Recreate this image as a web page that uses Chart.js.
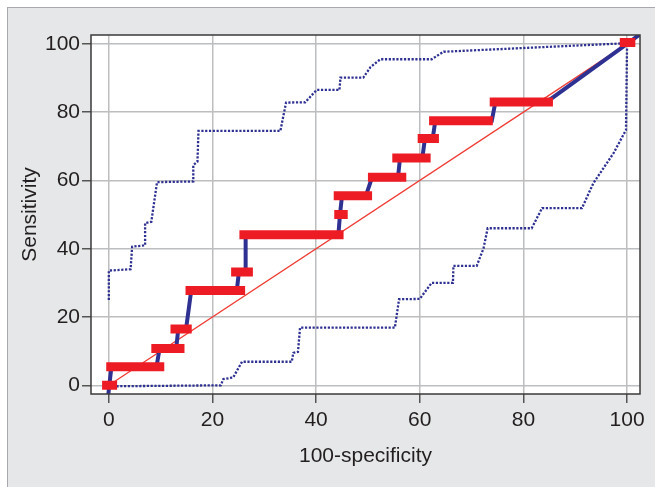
<!DOCTYPE html>
<html>
<head>
<meta charset="utf-8">
<script src="https://cdn.jsdelivr.net/npm/chart.js@4"></script>
<style>
  html, body { margin: 0; padding: 0; background: #fff; }
  #wrap { position: relative; width: 655px; height: 487px; overflow: hidden; }
  #panel { position: absolute; left: 7px; top: 7px; right: 0; bottom: 0;
           background: #e6e7e8; border-top: 1px solid #a7a9ac; border-left: 1px solid #a7a9ac; }
  #c { position: absolute; left: 0; top: 0; }
</style>
</head>
<body>
<div id="wrap">
  <div id="panel"></div>
  <canvas id="c" width="655" height="487"></canvas>
</div>
<script>
// tick positions on both axes
var tickVals = [0, 20, 40, 60, 80, 100];

// empirical ROC curve (100-specificity, sensitivity)
var rocX = [-0.2, 0.5, 9.2, 9.8, 13.0, 13.4, 14.9, 15.9, 24.7, 25.1, 26.4, 26.4, 44.3, 44.6, 45.0, 49.6, 50.8, 55.8, 56.2, 60.5, 61.0, 62.5, 63.0, 73.9, 74.6, 84.5, 100, 104];
var rocY = [-4, 5.4, 5.4, 10.8, 10.8, 16.5, 16.5, 27.8, 27.8, 33.2, 33.2, 44.1, 44.1, 50.0, 55.5, 55.5, 60.9, 60.9, 66.6, 66.6, 72.3, 72.3, 77.5, 77.5, 83.0, 83.0, 100, 104.5];

// confidence intervals for specificity at each sensitivity step (red bars)
var barY  = [0, 5.4, 10.8, 16.5, 27.8, 33.2, 44.1, 50.0, 55.5, 60.9, 66.6, 72.3, 77.5, 83.0, 100.4];
var barLo = [-1.3, -0.5, 8.2, 11.9, 14.8, 23.6, 25.2, 43.5, 43.4, 50.0, 54.7, 59.6, 61.8, 73.5, 98.6];
var barHi = [1.6, 10.7, 14.6, 16.0, 26.3, 27.8, 45.3, 46.1, 50.8, 57.4, 62.1, 63.7, 74.1, 85.7, 101.6];

// upper confidence band (dotted)
var upperX = [0, 0, 4.2, 4.5, 7.0, 7.0, 8.2, 9.3, 16.3, 16.3, 17.1, 17.3, 33.1, 34.2, 37.9, 40.1, 44.5, 44.7, 49.1, 50.5, 52.4, 62.3, 64.6, 100];
var upperY = [25, 33.6, 34, 40.6, 41, 47.5, 47.9, 59.5, 59.7, 64.5, 65.5, 74.5, 74.5, 82.8, 82.9, 86.5, 86.5, 90.1, 90.1, 93.2, 95.5, 95.5, 97.7, 100.2];

// lower confidence band (dotted)
var lowerX = [0, 21.6, 22.1, 24.0, 25.7, 35.3, 35.6, 36.5, 36.9, 55.2, 56.0, 60.0, 62.3, 66.4, 66.5, 71.0, 72.3, 73.1, 81.6, 83.6, 91.3, 93.5, 97.4, 99.8, 100];
var lowerY = [-0.3, 0, 1.8, 2.3, 6.9, 6.9, 9.5, 9.8, 16.9, 16.9, 25.2, 25.3, 30.0, 30.0, 35.0, 35.0, 40.1, 46.0, 46.0, 51.9, 51.9, 59.2, 68.0, 74.8, 100];

// reference diagonal
var diagX = [0, 100];
var diagY = [0, 100];

function pts(xs, ys) {
  return xs.map(function (x, i) { return { x: x, y: ys[i] }; });
}

function barPts() {
  var out = [];
  barY.forEach(function (y, i) {
    out.push({ x: barLo[i], y: y });
    out.push({ x: barHi[i], y: y });
    out.push({ x: barHi[i], y: null });
  });
  return out;
}

var navy = '#2e3192';
var red = '#ed1c24';
var font = { family: '"Liberation Sans", Arial, sans-serif', size: 21 };

var frame = {
  id: 'frame',
  beforeDraw: function (chart) {
    var a = chart.chartArea, ctx = chart.ctx;
    ctx.save();
    ctx.fillStyle = '#fff';
    ctx.fillRect(a.left, a.top, a.right - a.left, a.bottom - a.top);
    ctx.restore();
  },
  afterDatasetsDraw: function (chart) {
    var a = chart.chartArea, ctx = chart.ctx;
    ctx.save();
    ctx.strokeStyle = '#3a3a3a';
    ctx.lineWidth = 1.5;
    ctx.strokeRect(a.left, a.top, a.right - a.left, a.bottom - a.top);
    ctx.restore();
  }
};

function fixedTicks(scale) {
  scale.ticks = tickVals.map(function (v) { return { value: v }; });
}

new Chart(document.getElementById('c'), {
  type: 'line',
  data: {
    datasets: [
      { data: barPts(), borderColor: red, borderWidth: 9, borderCapStyle: 'butt', spanGaps: false, clip: 0 },
      { data: pts(rocX, rocY), borderColor: navy, borderWidth: 4, clip: 0 },
      { data: pts(diagX, diagY), borderColor: '#ef3b33', borderWidth: 1.3, clip: 0 },
      { data: pts(upperX, upperY), borderColor: navy, borderWidth: 2.3, borderDash: [2.2, 1.6], clip: 0 },
      { data: pts(lowerX, lowerY), borderColor: navy, borderWidth: 2.3, borderDash: [2.2, 1.6], clip: 0 }
    ]
  },
  options: {
    responsive: false,
    animation: false,
    layout: { padding: { left: 10, top: 35, right: 15, bottom: 18 } },
    elements: { point: { radius: 0 }, line: { tension: 0, fill: false } },
    plugins: { legend: { display: false }, tooltip: { enabled: false } },
    scales: {
      x: {
        type: 'linear', min: -3.44, max: 102.5,
        afterBuildTicks: fixedTicks,
        afterFit: function (s) { s.height = 75; },
        grid: { color: '#bcbec0', lineWidth: 1.5, tickColor: '#555', tickLength: 9 },
        border: { display: false },
        ticks: { color: '#231f20', font: font, padding: 5, maxRotation: 0 },
        title: { display: true, text: '100-specificity', color: '#231f20', font: font, padding: { top: 4, bottom: 0 } }
      },
      y: {
        type: 'linear', min: -2.55, max: 102.6,
        afterBuildTicks: fixedTicks,
        afterFit: function (s) { s.width = 81; },
        grid: { color: '#bcbec0', lineWidth: 1.5, tickColor: '#555', tickLength: 9 },
        border: { display: false },
        ticks: { color: '#231f20', font: font, padding: 2 },
        title: { display: true, text: 'Sensitivity', color: '#231f20', font: font, padding: { top: 8, bottom: 0 } }
      }
    }
  },
  plugins: [frame]
});
</script>
</body>
</html>
